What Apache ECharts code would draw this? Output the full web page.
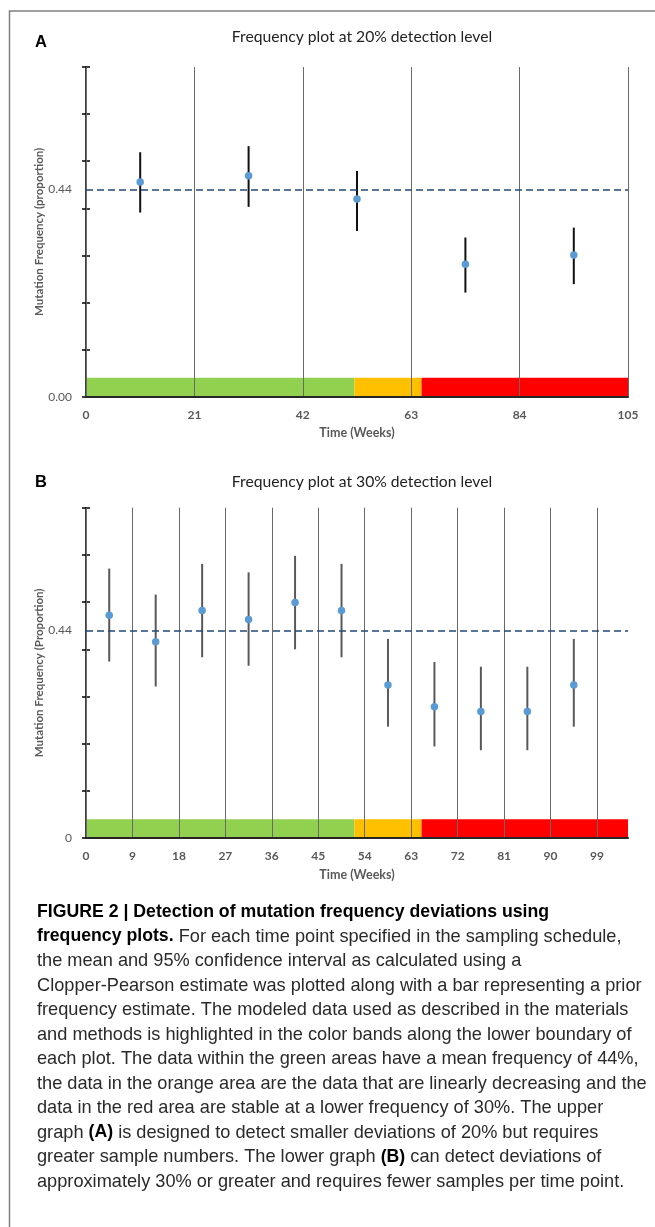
<!DOCTYPE html>
<html>
<head>
<meta charset="utf-8">
<script src="https://cdn.jsdelivr.net/npm/echarts@6/dist/echarts.min.js"></script>
<style>
html,body{margin:0;padding:0;background:#fff;}
#c{width:655px;height:1227px;}
</style>
</head>
<body>
<div id="c"></div>
<script>
// ---------- data ----------
const weeksA = [10.5, 31.5, 52.5, 73.5, 94.5];
const meanA  = [0.456, 0.469, 0.420, 0.281, 0.301];
const lowA   = [0.391, 0.403, 0.352, 0.221, 0.239];
const highA  = [0.519, 0.532, 0.479, 0.338, 0.359];

const weeksB = [4.5, 13.5, 22.5, 31.5, 40.5, 49.5, 58.5, 67.5, 76.5, 85.5, 94.5];
const meanB  = [0.472, 0.416, 0.482, 0.463, 0.499, 0.482, 0.324, 0.278, 0.268, 0.268, 0.324];
const lowB   = [0.374, 0.321, 0.383, 0.365, 0.400, 0.383, 0.236, 0.194, 0.186, 0.186, 0.236];
const highB  = [0.571, 0.516, 0.581, 0.563, 0.598, 0.581, 0.422, 0.373, 0.363, 0.363, 0.422];

const priorFreq = 0.44;
const bandEdges = [0, 52, 65, 105];   // green | orange | red
const bandTop = 0.04;

const xTicksA = [0, 21, 42, 63, 84, 105];
const xTicksB = [0, 9, 18, 27, 36, 45, 54, 63, 72, 81, 90, 99];
const yLabelsA = [0, 0.44];
const yLabelsB = [0, 0.44];

const titleA = 'Frequency plot at 20% detection level';
const titleB = 'Frequency plot at 30% detection level';
const yNameA = 'Mutation Frequency (proportion)';
const yNameB = 'Mutation Frequency (Proportion)';
const xName = 'Time (Weeks)';

const captionLines = [
  '{h|FIGURE 2 | Detection of mutation frequency deviations using}',
  '{h|frequency plots.} For each time point specified in the sampling schedule,',
  'the mean and 95% confidence interval as calculated using a',
  'Clopper-Pearson estimate was plotted along with a bar representing a prior',
  'frequency estimate. The modeled data used as described in the materials',
  'and methods is highlighted in the color bands along the lower boundary of',
  'each plot. The data within the green areas have a mean frequency of 44%,',
  'the data in the orange area are the data that are linearly decreasing and the',
  'data in the red area are stable at a lower frequency of 30%. The upper',
  'graph {h|(A)} is designed to detect smaller deviations of 20% but requires',
  'greater sample numbers. The lower graph {h|(B)} can detect deviations of',
  'approximately 30% or greater and requires fewer samples per time point.'
];

// ---------- styles ----------
const bandColors = ['#92D050', '#FFC000', '#FF0000'];
const pointColor = '#5B9BD5';
const gray = '#595959';
const labelFont = 'Lato, "Open Sans", sans-serif';

const bandData = [];
for (let i = 0; i < bandEdges.length - 1; i++) bandData.push([bandEdges[i], bandEdges[i + 1], bandTop, i]);

function zipErr(w, lo, hi) { return w.map((x, i) => [x, lo[i], hi[i]]); }
function zipPts(w, m) { return w.map((x, i) => [x, m[i]]); }

function bandSeries(idx) {
  return {
    type: 'custom', xAxisIndex: idx, yAxisIndex: idx * 2, z: 0, silent: true,
    data: bandData,
    renderItem: function (params, api) {
      const p0 = api.coord([api.value(0), api.value(2)]);
      const p1 = api.coord([api.value(1), 0]);
      return { type: 'rect', shape: { x: p0[0], y: p0[1], width: p1[0] - p0[0], height: p1[1] - p0[1] },
               style: { fill: bandColors[api.value(3)] } };
    }
  };
}
function errSeries(idx, data, color) {
  return {
    type: 'custom', xAxisIndex: idx, yAxisIndex: idx * 2, z: 3, silent: true,
    data: data,
    renderItem: function (params, api) {
      const p0 = api.coord([api.value(0), api.value(1)]);
      const p1 = api.coord([api.value(0), api.value(2)]);
      return { type: 'line', shape: { x1: p0[0], y1: p0[1], x2: p1[0], y2: p1[1] },
               style: { stroke: color, lineWidth: 2 } };
    }
  };
}
function pointSeries(idx, data) {
  return {
    type: 'scatter', xAxisIndex: idx, yAxisIndex: idx * 2, z: 4,
    symbolSize: 7.5, itemStyle: { color: pointColor, opacity: 1 },
    data: data,
    markLine: {
      silent: true, symbol: 'none', animation: false,
      lineStyle: { type: [7, 4], color: '#24487a', width: 1.5 },
      label: { show: false },
      data: [{ yAxis: priorFreq }]
    }
  };
}
function xAxis(idx, ticks) {
  return {
    gridIndex: idx, type: 'value', min: 0, max: 105, interval: idx === 0 ? 21 : 9, z: 1,
    name: xName, nameLocation: 'middle', nameGap: 30, nameMoveOverlap: false,
    nameTextStyle: { color: gray, fontWeight: 'bold', fontSize: 12.5, fontFamily: labelFont },
    axisLine: { show: true, onZero: false, lineStyle: { color: '#262626', width: 2 } },
    axisTick: { show: false, customValues: ticks },
    axisLabel: { customValues: ticks, color: gray, fontWeight: 'bold', fontSize: 12, fontFamily: labelFont, margin: 12 },
    splitLine: { show: true, customValues: ticks, lineStyle: { color: '#6a6a6a', width: 1 } }
  };
}
function yAxes(idx, labels, name, fmt) {
  return [{
    gridIndex: idx, type: 'value', position: 'left', min: 0, max: 0.7, interval: 0.1,
    name: name, nameLocation: 'middle', nameGap: 41, nameMoveOverlap: false,
    nameTextStyle: { color: gray, fontWeight: 'bold', fontSize: 11.5, fontFamily: labelFont },
    axisLine: { show: true, lineStyle: { color: '#000', width: 1.5 } },
    axisTick: { show: true, length: 4, lineStyle: { color: '#000', width: 1.5 } },
    axisLabel: { customValues: labels, formatter: fmt, color: gray, fontSize: 12, fontFamily: labelFont, margin: 14 },
    splitLine: { show: false }
  }, {
    gridIndex: idx, type: 'value', position: 'left', offset: 0, min: 0, max: 0.7, interval: 0.1,
    axisLine: { show: false },
    axisTick: { show: true, inside: true, length: 4, lineStyle: { color: '#000', width: 1.5 } },
    axisLabel: { show: false },
    splitLine: { show: false }
  }];
}

const graphics = [
  { type: 'rect', shape: { x: 9.5, y: 11, width: 700, height: 1300 }, style: { fill: 'none', stroke: '#808080', lineWidth: 1.5 }, silent: true },
  { type: 'text', x: 35, y: 42.5, style: { text: 'A', fontFamily: '"Liberation Sans", Arial, sans-serif', fontWeight: 'bold', fontSize: 16.5, fill: '#000', verticalAlign: 'middle' } },
  { type: 'text', x: 35, y: 482, style: { text: 'B', fontFamily: '"Liberation Sans", Arial, sans-serif', fontWeight: 'bold', fontSize: 16.5, fill: '#000', verticalAlign: 'middle' } },
  { type: 'text', x: 362, y: 37, style: { text: titleA, fontFamily: labelFont, fontSize: 15.7, fill: '#222', align: 'center', verticalAlign: 'middle' } },
  { type: 'text', x: 362, y: 482, style: { text: titleB, fontFamily: labelFont, fontSize: 15.7, fill: '#222', align: 'center', verticalAlign: 'middle' } }
];
const capFont = '"Liberation Sans", Arial, sans-serif';
captionLines.forEach(function (line, i) {
  graphics.push({
    type: 'text', x: 37, y: 912 + i * 24.5,
    style: {
      text: line, fontFamily: capFont, fontSize: 18.2, fill: '#2a2a2a', verticalAlign: 'middle',
      rich: { h: { fontFamily: capFont, fontSize: 17.7, fontWeight: 'bold', fill: '#000' } }
    }
  });
});

const option = {
  animation: false,
  backgroundColor: '#fff',
  grid: [
    { left: 86, top: 67, width: 542, height: 329.7 },
    { left: 86, top: 507.7, width: 542, height: 330.3 }
  ],
  xAxis: [xAxis(0, xTicksA), xAxis(1, xTicksB)],
  yAxis: yAxes(0, yLabelsA, yNameA, v => v.toFixed(2)).concat(
         yAxes(1, yLabelsB, yNameB, v => (v === 0 ? '0' : v.toFixed(2)))),
  series: [
    bandSeries(0), errSeries(0, zipErr(weeksA, lowA, highA), '#111'), pointSeries(0, zipPts(weeksA, meanA)),
    bandSeries(1), errSeries(1, zipErr(weeksB, lowB, highB), '#595959'), pointSeries(1, zipPts(weeksB, meanB))
  ],
  graphic: graphics
};

const chart = echarts.init(document.getElementById('c'));
chart.setOption(option);
</script>
</body>
</html>
